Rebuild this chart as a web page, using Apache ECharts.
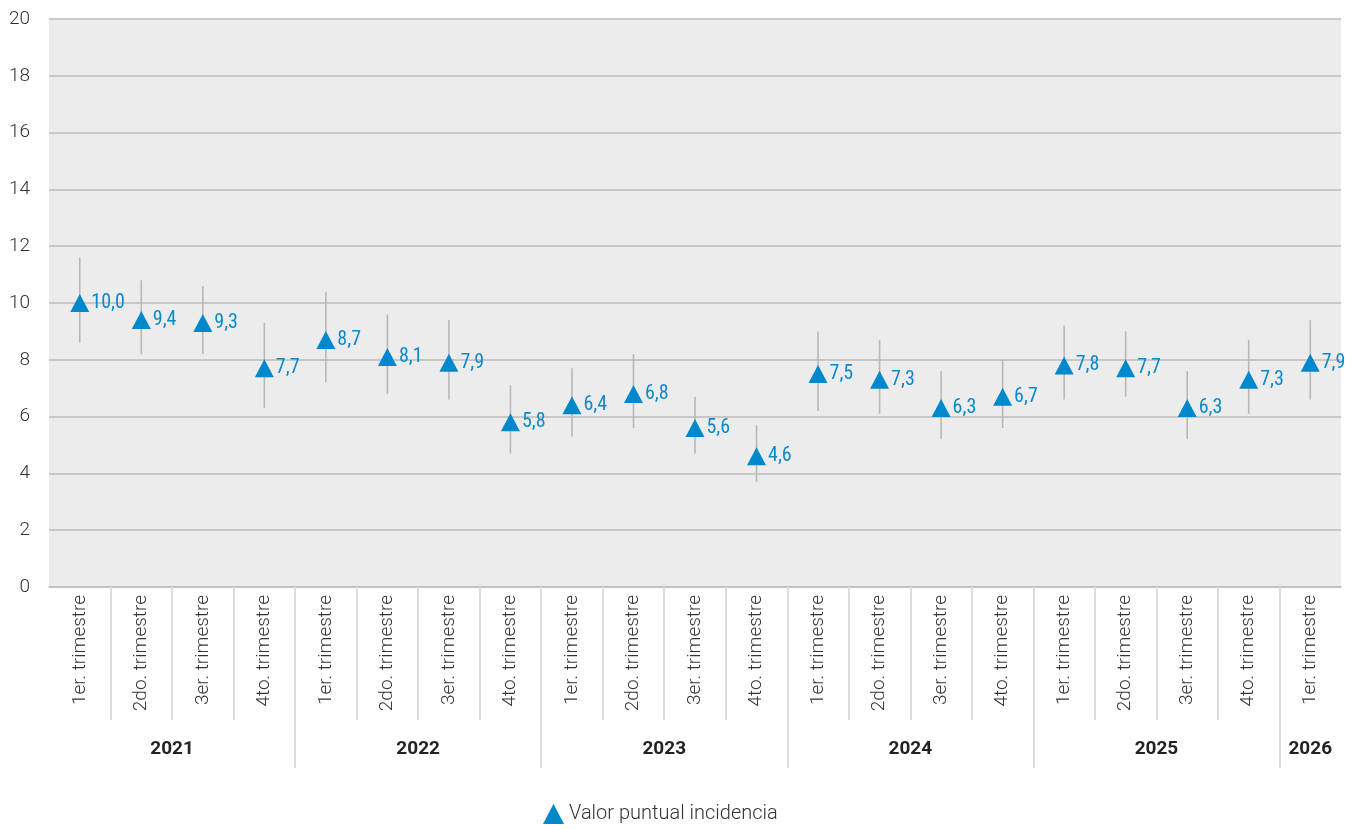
<!DOCTYPE html>
<html><head><meta charset="utf-8">
<script src="https://cdn.jsdelivr.net/npm/echarts@6/dist/echarts.min.js"></script>
<style>html,body{margin:0;padding:0;background:#fff}#c{width:1351px;height:829px}</style>
</head><body><div id="c"></div>
<script>
const quarters = ['1er. trimestre','2do. trimestre','3er. trimestre','4to. trimestre',
  '1er. trimestre','2do. trimestre','3er. trimestre','4to. trimestre',
  '1er. trimestre','2do. trimestre','3er. trimestre','4to. trimestre',
  '1er. trimestre','2do. trimestre','3er. trimestre','4to. trimestre',
  '1er. trimestre','2do. trimestre','3er. trimestre','4to. trimestre',
  '1er. trimestre'];
const years = ['2021','2022','2023','2024','2025','2026'];
const yearQuarterCounts = [4,4,4,4,4,1];
const values = [10.0,9.4,9.3,7.7,8.7,8.1,7.9,5.8,6.4,6.8,5.6,4.6,7.5,7.3,6.3,6.7,7.8,7.7,6.3,7.3,7.9];
const lows  = [8.6,8.2,8.2,6.3,7.2,6.8,6.6,4.7,5.3,5.6,4.7,3.7,6.2,6.1,5.2,5.6,6.6,6.7,5.2,6.1,6.6];
const highs = [11.6,10.8,10.6,9.3,10.4,9.6,9.4,7.1,7.7,8.2,6.7,5.7,9.0,8.7,7.6,8.0,9.2,9.0,7.6,8.7,9.4];
const seriesName = 'Valor puntual incidencia';

const n = quarters.length;
const yearBounds = [], yearCenters = [];
let acc = 0;
yearQuarterCounts.forEach(c => { yearCenters.push(acc + c / 2); acc += c; yearBounds.push(acc); });
yearBounds.pop();
const quarterBounds = [];
for (let i = 1; i < n; i++) if (!yearBounds.includes(i)) quarterBounds.push(i);

const font = 'Roboto';
const chart = echarts.init(document.getElementById('c'));
chart.setOption({
  animation: false,
  textStyle: { fontFamily: font },
  grid: { left: 49, right: 10, top: 19, bottom: 242, show: true, backgroundColor: '#ececec', borderWidth: 0 },
  legend: {
    bottom: 0, left: 538, itemWidth: 21, itemHeight: 20, itemGap: 7,
    icon: 'triangle',
    itemStyle: { color: '#0088cc', opacity: 1 },
    textStyle: { fontSize: 20, color: '#333', fontFamily: font, fontWeight: 300 },
    data: [seriesName]
  },
  xAxis: [
    { type: 'category', data: quarters, boundaryGap: true, position: 'bottom',
      axisLine: { lineStyle: { color: '#bdbdbd', width: 1.5 } },
      axisTick: { show: false },
      axisLabel: { rotate: 90, margin: 8, fontSize: 19, color: '#333', fontWeight: 300, interval: 0 } },
    { type: 'value', min: 0, max: n, position: 'bottom',
      axisLine: { show: false }, splitLine: { show: false },
      axisLabel: { show: false },
      axisTick: { show: true, customValues: quarterBounds, length: 133, lineStyle: { color: '#dcdcdc', width: 2 } } },
    { type: 'value', min: 0, max: n, position: 'bottom',
      axisLine: { show: false }, splitLine: { show: false },
      axisTick: { show: true, customValues: yearBounds, length: 181, lineStyle: { color: '#dcdcdc', width: 2 } },
      axisLabel: { show: true, customValues: yearCenters, margin: 153, fontSize: 19, fontWeight: 'bold', color: '#222',
        formatter: v => { const k = yearCenters.indexOf(v); return k >= 0 ? years[k] : ''; } } }
  ],
  yAxis: {
    type: 'value', min: 0, max: 20, interval: 2,
    axisLine: { show: false }, axisTick: { show: false },
    axisLabel: { fontSize: 19, color: '#333', fontWeight: 300, margin: 19 },
    splitLine: { lineStyle: { color: '#bdbdbd', width: 1.5 } }
  },
  series: [
    { type: 'custom', name: 'err', xAxisIndex: 0, z: 1, silent: true,
      data: values.map((v, i) => [i, lows[i], highs[i]]),
      renderItem: (params, api) => {
        const p1 = api.coord([api.value(0), api.value(1)]);
        const p2 = api.coord([api.value(0), api.value(2)]);
        return { type: 'line', shape: { x1: p1[0], y1: p1[1], x2: p2[0], y2: p2[1] },
          style: { stroke: '#b8b8b8', lineWidth: 1.6 } };
      } },
    { type: 'scatter', name: seriesName, xAxisIndex: 0, z: 3,
      symbol: 'triangle', symbolSize: [19, 18],
      itemStyle: { color: '#0088cc', opacity: 1 },
      data: values,
      label: { show: true, position: 'right', distance: 2, fontSize: 20, color: '#0a8acb',
        fontFamily: 'Roboto Condensed, Roboto', fontWeight: 400,
        formatter: p => p.value.toFixed(1).replace('.', ',') } }
  ]
});
</script></body></html>
